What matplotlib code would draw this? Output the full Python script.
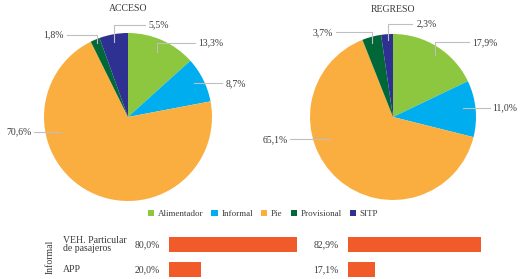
import matplotlib.pyplot as plt
from matplotlib.patches import Patch

# datos
categorias = ['Alimentador', 'Informal', 'Pie', 'Provisional', 'SITP']
colores = ['#8DC63F', '#00AEEF', '#FBAE40', '#006838', '#2E3192']
acceso = [13.3, 8.7, 70.6, 1.8, 5.5]
regreso = [17.9, 11.0, 65.1, 3.7, 2.3]

informal_cat = ['VEH. Particular\nde pasajeros', 'APP']
informal_acceso = [80.0, 20.0]
informal_regreso = [82.9, 17.1]

# posiciones de etiquetas (inicio de linea, y del texto, fin de linea, x del texto)
lab_acceso = [
    ((0.35, 0.77), 0.88, 0.80, 0.83, 'left'),
    ((0.78, 0.40), 0.40, 1.12, 1.16, 'left'),
    ((-0.80, -0.18), -0.18, -1.12, -1.15, 'right'),
    ((-0.37, 0.88), 0.98, -0.73, -0.76, 'right'),
    ((-0.17, 0.89), 1.10, 0.20, 0.24, 'left'),
]
lab_regreso = [
    ((0.50, 0.75), 0.90, 0.92, 0.95, 'left'),
    ((0.84, 0.11), 0.11, 1.17, 1.20, 'left'),
    ((-0.76, -0.27), -0.27, -1.24, -1.27, 'right'),
    ((-0.25, 0.89), 1.02, -0.69, -0.72, 'right'),
    ((-0.06, 0.93), 1.12, 0.23, 0.28, 'left'),
]

plt.rcParams['font.family'] = ['Liberation Serif', 'DejaVu Serif']
txt = '#3a3a3a'
W, H = 522, 279

fig = plt.figure(figsize=(W / 100, H / 100), dpi=100)


def px_axes(left, top, width, height):
    return fig.add_axes([left / W, 1 - (top + height) / H, width / W, height / H])


def pie(ax, vals, labs, title):
    ax.pie(vals, colors=colores, startangle=90, counterclock=False, radius=1)
    ax.set_xlim(-1, 1)
    ax.set_ylim(-1, 1)
    ax.set_aspect('equal')
    ax.axis('off')
    for v, (s, yt, xe, xt, ha) in zip(vals, labs):
        ax.plot([s[0], s[0], xe], [s[1], yt, yt], color='#bfbfbf', lw=0.8, clip_on=False)
        ax.text(xt, yt, f'{v:.1f}%'.replace('.', ','), ha=ha, va='center',
                fontsize=7, color=txt)
    ax.text(0, 1.29, title, ha='center', va='center', fontsize=7, color=txt)


ax1 = px_axes(44, 33, 168, 168)
pie(ax1, acceso, lab_acceso, 'ACCESO')
ax2 = px_axes(310, 34, 166, 166)
pie(ax2, regreso, lab_regreso, 'REGRESO')

handles = [Patch(facecolor=c, edgecolor='none') for c in colores]
fig.legend(handles, categorias, loc='center', bbox_to_anchor=(263 / W, 1 - 214 / H),
           ncol=5, frameon=False, fontsize=6.5, handlelength=0.7, handleheight=0.7,
           handletextpad=0.4, columnspacing=0.9, labelcolor=txt)

# barras
bar_color = '#F15A29'
for left, vals in [(169, informal_acceso), (348, informal_regreso)]:
    ax = px_axes(left, 232, 160, 47)
    y = range(len(vals))
    ax.barh(y, vals, height=0.6, color=bar_color)
    ax.set_xlim(0, 100)
    ax.set_ylim(1.38, -0.5)
    ax.axis('off')
    for i, v in enumerate(vals):
        ax.text(-5.6, i, f'{v:.1f}%'.replace('.', ','), ha='right', va='center',
                fontsize=7, color=txt, clip_on=False)
    if left == 169:
        for i, c in enumerate(informal_cat):
            ax.text(-66.3, i, c, ha='left', va='center', fontsize=7, color=txt,
                    linespacing=0.95)
        ax.text(-74.4, 0.5, 'Informal', rotation=90, ha='center', va='center',
                fontsize=7, color=txt)

fig.savefig('out.png', dpi=100)
